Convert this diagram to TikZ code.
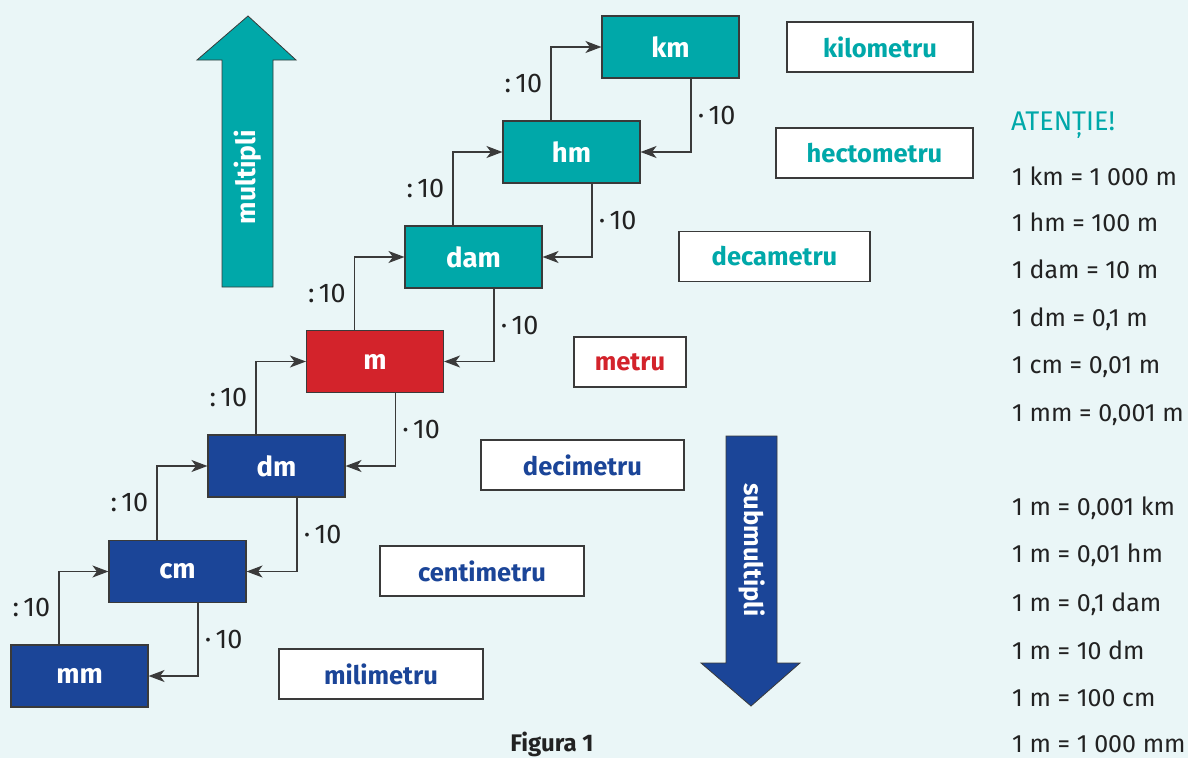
\documentclass[tikz,border=0pt]{standalone}
\usepackage{fontspec}
\setmainfont{Fira Sans}
\usetikzlibrary{arrows.meta,calc,positioning}
\definecolor{MSteal}{HTML}{00A8A9}
\definecolor{MSblue}{HTML}{1B4598}
\definecolor{MSred}{HTML}{D3232B}
\definecolor{MSink}{HTML}{222222}
\definecolor{MSline}{HTML}{3A3A3A}
\definecolor{MSback}{HTML}{EAF6F7}

\begin{document}
\begin{tikzpicture}[
  x=1pt,y=-1pt,
  font=\fontsize{25}{30}\selectfont,
  line join=miter,
  conv/.style={draw=MSline,line width=1.5pt,-{Stealth[length=16pt,width=12pt,inset=4.5pt]}},
  unitbox/.style={draw=MSline,line width=1.1pt,minimum width=137pt,minimum height=62pt,
    inner sep=0pt,text=white,font=\bfseries\fontsize{27.5}{30}\selectfont},
  namebox/.style={draw=MSline,line width=1.3pt,fill=white,minimum height=50pt,
    inner sep=0pt,font=\bfseries\fontsize{25.5}{28}\selectfont},
  factor/.style={text=MSink,font=\fontsize{27}{30}\selectfont,inner sep=2pt},
  bigarrow/.style={draw=MSline,line width=0.8pt},
  eqline/.style={anchor=base west,text=MSink,inner sep=0pt,font=\fontsize{25}{30}\selectfont}
]
\fill[MSback] (0,0) rectangle (1188,758);
\useasboundingbox (0,0) rectangle (1188,758);

% Staircase of units, one step per power of ten.
\node[unitbox,fill=MSblue] (mm) at (79.5,676) {mm};
\node[unitbox,fill=MSblue] (cm) at (177.5,571.5) {cm};
\node[unitbox,fill=MSblue] (dm) at (276.5,466) {dm};
\node[unitbox,fill=MSred] (m) at (375,361.5) {m};
\node[unitbox,fill=MSteal] (dam) at (473.5,257) {dam};
\node[unitbox,fill=MSteal] (hm) at (571.5,152) {hm};
\node[unitbox,fill=MSteal] (km) at (670.5,47) {km};

% Up: divide by ten; down: multiply by ten.
\draw[conv] ([xshift=-20.5pt]mm.north) |- node[factor,pos=0.25,left=6pt] {:\,10} (cm.west);
\draw[conv] ([xshift=-20.5pt]cm.north) |- node[factor,pos=0.25,left=6pt] {:\,10} (dm.west);
\draw[conv] ([xshift=-20.5pt]dm.north) |- node[factor,pos=0.25,left=6pt] {:\,10} (m.west);
\draw[conv] ([xshift=-20.5pt]m.north) |- node[factor,pos=0.25,left=6pt] {:\,10} (dam.west);
\draw[conv] ([xshift=-20.5pt]dam.north) |- node[factor,pos=0.25,left=6pt] {:\,10} (hm.west);
\draw[conv] ([xshift=-20.5pt]hm.north) |- node[factor,pos=0.25,left=6pt] {:\,10} (km.west);

\draw[conv] ([xshift=20.5pt]cm.south) |- node[factor,pos=0.25,right=4pt] {·\,10} (mm.east);
\draw[conv] ([xshift=20.5pt]dm.south) |- node[factor,pos=0.25,right=4pt] {·\,10} (cm.east);
\draw[conv] ([xshift=20.5pt]m.south) |- node[factor,pos=0.25,right=4pt] {·\,10} (dm.east);
\draw[conv] ([xshift=20.5pt]dam.south) |- node[factor,pos=0.25,right=4pt] {·\,10} (m.east);
\draw[conv] ([xshift=20.5pt]hm.south) |- node[factor,pos=0.25,right=4pt] {·\,10} (dam.east);
\draw[conv] ([xshift=20.5pt]km.south) |- node[factor,pos=0.25,right=4pt] {·\,10} (hm.east);

% Unit names.
\node[namebox,text=MSblue,minimum width=204pt] (nmm) at (381,674) {milimetru};
\node[namebox,text=MSblue,minimum width=204pt] (ncm) at (482,571) {centimetru};
\node[namebox,text=MSblue,minimum width=203pt] (ndm) at (582.5,465) {decimetru};
\node[namebox,text=MSred,minimum width=112pt] (nm) at (630,362) {metru};
\node[namebox,text=MSteal,minimum width=191pt] (ndam) at (774.5,256.5) {decametru};
\node[namebox,text=MSteal,minimum width=197pt] (nhm) at (874.5,153) {hectometru};
\node[namebox,text=MSteal,minimum width=186pt] (nkm) at (880,47) {kilometru};

% Direction arrows.
\draw[bigarrow,fill=MSteal] (222,287) -- (222,60) -- (197,60) -- (248,16)
  -- (296,60) -- (273,60) -- (273,287) -- cycle;
\node[rotate=90,text=white,font=\bfseries\fontsize{26.5}{30}\selectfont] (multi) at (247.5,177) {multipli};
\draw[bigarrow,fill=MSblue] (726,436) -- (726,663) -- (701,663) -- (751,706)
  -- (800,663) -- (777,663) -- (777,436) -- cycle;
\node[rotate=-90,text=white,font=\bfseries\fontsize{25.5}{30}\selectfont] (submulti) at (751.5,550) {submultipli};

% Reminder column.
\node[anchor=base west,inner sep=0pt,text=MSteal,font=\fontsize{27}{30}\selectfont] (atentie) at (1011,130) {ATENȚIE!};
\node[eqline] (eqkm) at (1012,185) {1 km = 1 000 m};
\node[eqline] (eqhm) at (1012,231) {1 hm = 100 m};
\node[eqline] (eqdam) at (1012,278) {1 dam = 10 m};
\node[eqline] (eqdm) at (1012,326) {1 dm = 0,1 m};
\node[eqline] (eqcm) at (1012,373) {1 cm = 0,01 m};
\node[eqline] (eqmm) at (1012,421) {1 mm = 0,001 m};
\node[eqline] (mkm) at (1012,515) {1 m = 0,001 km};
\node[eqline] (mhm) at (1012,562) {1 m = 0,01 hm};
\node[eqline] (mdam) at (1012,611) {1 m = 0,1 dam};
\node[eqline] (mdm) at (1012,659) {1 m = 10 dm};
\node[eqline] (mcm) at (1012,706) {1 m = 100 cm};
\node[eqline] (mmm) at (1012,752) {1 m = 1 000 mm};

\node[anchor=base,inner sep=0pt,text=MSink,font=\bfseries\fontsize{24}{28}\selectfont] (caption) at (552,751) {Figura 1};

\end{tikzpicture}
\end{document}
